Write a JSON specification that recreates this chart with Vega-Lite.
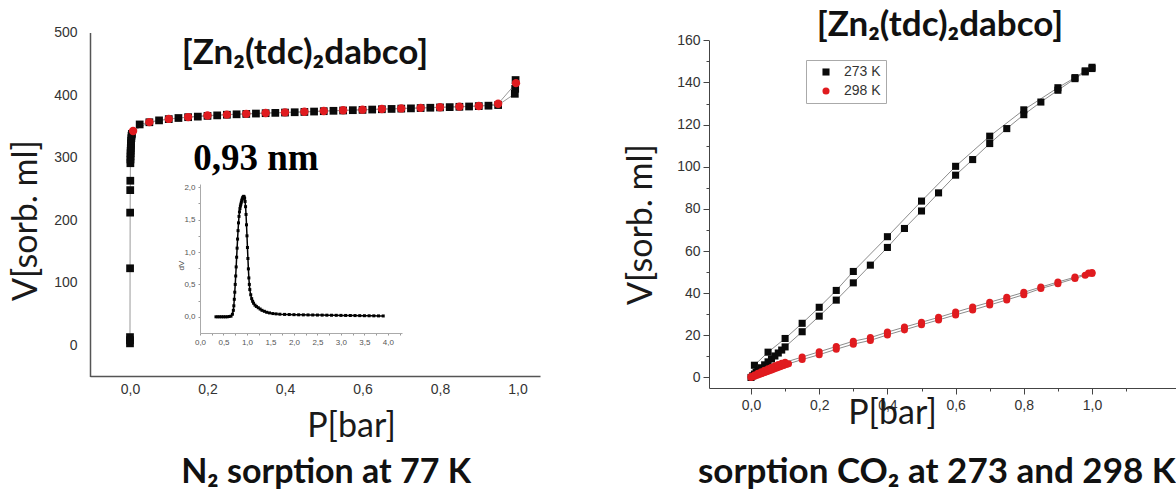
{
  "$schema": "https://vega.github.io/schema/vega-lite/v6.json",
  "width": 1176,
  "height": 490,
  "padding": 0,
  "autosize": {"type": "none"},
  "background": "white",
  "config": {
    "view": {"stroke": null},
    "font": "Liberation Sans",
    "axis": {"grid": false, "labelFont": "Liberation Sans", "labelColor": "#333", "domainColor": "#555", "tickColor": "#555", "labelOverlap": false, "labelFlush": false, "titleFont": "Lato", "titleFontWeight": "normal", "titleColor": "#1a1a1a"}
  },
  "datasets": {
    "n2": [
      {"s": "a", "P": 0.0, "V": 3}, {"s": "a", "P": 0.0, "V": 8}, {"s": "a", "P": 0.0, "V": 13},
      {"s": "a", "P": 0.0002, "V": 123}, {"s": "a", "P": 0.0004, "V": 212}, {"s": "a", "P": 0.0006, "V": 248},
      {"s": "a", "P": 0.0008, "V": 263}, {"s": "a", "P": 0.001, "V": 291}, {"s": "a", "P": 0.0012, "V": 297},
      {"s": "a", "P": 0.0014, "V": 302}, {"s": "a", "P": 0.0016, "V": 307}, {"s": "a", "P": 0.0018, "V": 311},
      {"s": "a", "P": 0.002, "V": 315}, {"s": "a", "P": 0.0023, "V": 319}, {"s": "a", "P": 0.0026, "V": 323},
      {"s": "a", "P": 0.003, "V": 327}, {"s": "a", "P": 0.0035, "V": 331}, {"s": "a", "P": 0.004, "V": 335},
      {"s": "a", "P": 0.005, "V": 338}, {"s": "a", "P": 0.025, "V": 353}, {"s": "a", "P": 0.05, "V": 356.5},
      {"s": "a", "P": 0.075, "V": 359.5}, {"s": "a", "P": 0.1, "V": 361.5}, {"s": "a", "P": 0.125, "V": 363.3},
      {"s": "a", "P": 0.15, "V": 364.6}, {"s": "a", "P": 0.175, "V": 365.5}, {"s": "a", "P": 0.2, "V": 366.7},
      {"s": "a", "P": 0.225, "V": 367.5}, {"s": "a", "P": 0.25, "V": 368.5}, {"s": "a", "P": 0.275, "V": 369.2},
      {"s": "a", "P": 0.3, "V": 369.8}, {"s": "a", "P": 0.325, "V": 370.4}, {"s": "a", "P": 0.35, "V": 371},
      {"s": "a", "P": 0.375, "V": 371.5}, {"s": "a", "P": 0.4, "V": 372}, {"s": "a", "P": 0.425, "V": 372.5},
      {"s": "a", "P": 0.45, "V": 373}, {"s": "a", "P": 0.475, "V": 373.6}, {"s": "a", "P": 0.5, "V": 374.2},
      {"s": "a", "P": 0.525, "V": 374.8}, {"s": "a", "P": 0.55, "V": 375.3}, {"s": "a", "P": 0.575, "V": 375.8},
      {"s": "a", "P": 0.6, "V": 376.3}, {"s": "a", "P": 0.625, "V": 376.8}, {"s": "a", "P": 0.65, "V": 377.3},
      {"s": "a", "P": 0.675, "V": 377.8}, {"s": "a", "P": 0.7, "V": 378.3}, {"s": "a", "P": 0.725, "V": 378.7},
      {"s": "a", "P": 0.75, "V": 379.2}, {"s": "a", "P": 0.775, "V": 379.7}, {"s": "a", "P": 0.8, "V": 380.2},
      {"s": "a", "P": 0.825, "V": 380.7}, {"s": "a", "P": 0.85, "V": 381.2}, {"s": "a", "P": 0.875, "V": 381.7},
      {"s": "a", "P": 0.9, "V": 382.3}, {"s": "a", "P": 0.925, "V": 383}, {"s": "a", "P": 0.95, "V": 384},
      {"s": "a", "P": 0.993, "V": 402}, {"s": "a", "P": 0.994, "V": 410}, {"s": "a", "P": 0.995, "V": 424},
      {"s": "d", "P": 0.008, "V": 342.5}, {"s": "d", "P": 0.05, "V": 356.7}, {"s": "d", "P": 0.1, "V": 361.8},
      {"s": "d", "P": 0.15, "V": 364.8}, {"s": "d", "P": 0.2, "V": 367.3}, {"s": "d", "P": 0.25, "V": 368.7},
      {"s": "d", "P": 0.3, "V": 370}, {"s": "d", "P": 0.35, "V": 371.3}, {"s": "d", "P": 0.4, "V": 372.3},
      {"s": "d", "P": 0.45, "V": 373.3}, {"s": "d", "P": 0.5, "V": 374.5}, {"s": "d", "P": 0.55, "V": 375.6},
      {"s": "d", "P": 0.6, "V": 376.6}, {"s": "d", "P": 0.65, "V": 377.6}, {"s": "d", "P": 0.7, "V": 378.6},
      {"s": "d", "P": 0.75, "V": 379.5}, {"s": "d", "P": 0.8, "V": 380.5}, {"s": "d", "P": 0.85, "V": 381.5},
      {"s": "d", "P": 0.9, "V": 382.5}, {"s": "d", "P": 0.95, "V": 386}, {"s": "d", "P": 0.996, "V": 419}
    ],
    "psd": [
      {"d": 0.34, "dV": 0.0}, {"d": 0.38, "dV": 0.0}, {"d": 0.42, "dV": 0.0}, {"d": 0.46, "dV": 0.0},
      {"d": 0.5, "dV": 0.0}, {"d": 0.54, "dV": 0.0}, {"d": 0.58, "dV": 0.0}, {"d": 0.62, "dV": 0.005},
      {"d": 0.66, "dV": 0.01}, {"d": 0.69, "dV": 0.04}, {"d": 0.71, "dV": 0.1}, {"d": 0.72, "dV": 0.17},
      {"d": 0.73, "dV": 0.27}, {"d": 0.74, "dV": 0.38}, {"d": 0.75, "dV": 0.5}, {"d": 0.76, "dV": 0.63},
      {"d": 0.77, "dV": 0.77}, {"d": 0.78, "dV": 0.92}, {"d": 0.79, "dV": 1.06}, {"d": 0.8, "dV": 1.2},
      {"d": 0.81, "dV": 1.33}, {"d": 0.82, "dV": 1.45}, {"d": 0.83, "dV": 1.55}, {"d": 0.84, "dV": 1.62},
      {"d": 0.85, "dV": 1.67}, {"d": 0.86, "dV": 1.71}, {"d": 0.87, "dV": 1.74}, {"d": 0.88, "dV": 1.77},
      {"d": 0.89, "dV": 1.8}, {"d": 0.9, "dV": 1.82}, {"d": 0.91, "dV": 1.84}, {"d": 0.92, "dV": 1.85},
      {"d": 0.93, "dV": 1.86}, {"d": 0.94, "dV": 1.85}, {"d": 0.95, "dV": 1.83}, {"d": 0.96, "dV": 1.78},
      {"d": 0.97, "dV": 1.7}, {"d": 0.98, "dV": 1.58}, {"d": 0.99, "dV": 1.42}, {"d": 1.0, "dV": 1.25},
      {"d": 1.01, "dV": 1.07}, {"d": 1.02, "dV": 0.9}, {"d": 1.03, "dV": 0.74}, {"d": 1.04, "dV": 0.6},
      {"d": 1.05, "dV": 0.5}, {"d": 1.06, "dV": 0.42}, {"d": 1.08, "dV": 0.34}, {"d": 1.1, "dV": 0.28},
      {"d": 1.12, "dV": 0.24}, {"d": 1.14, "dV": 0.21}, {"d": 1.17, "dV": 0.18}, {"d": 1.2, "dV": 0.16},
      {"d": 1.24, "dV": 0.14}, {"d": 1.28, "dV": 0.12}, {"d": 1.32, "dV": 0.1}, {"d": 1.37, "dV": 0.085},
      {"d": 1.42, "dV": 0.07}, {"d": 1.48, "dV": 0.06}, {"d": 1.55, "dV": 0.05}, {"d": 1.62, "dV": 0.045},
      {"d": 1.7, "dV": 0.04}, {"d": 1.8, "dV": 0.037}, {"d": 1.9, "dV": 0.035}, {"d": 2.0, "dV": 0.033},
      {"d": 2.1, "dV": 0.031}, {"d": 2.2, "dV": 0.03}, {"d": 2.3, "dV": 0.029}, {"d": 2.4, "dV": 0.028},
      {"d": 2.5, "dV": 0.027}, {"d": 2.6, "dV": 0.026}, {"d": 2.7, "dV": 0.025}, {"d": 2.8, "dV": 0.024},
      {"d": 2.9, "dV": 0.023}, {"d": 3.0, "dV": 0.022}, {"d": 3.1, "dV": 0.021}, {"d": 3.2, "dV": 0.02},
      {"d": 3.3, "dV": 0.019}, {"d": 3.4, "dV": 0.018}, {"d": 3.5, "dV": 0.017}, {"d": 3.6, "dV": 0.016},
      {"d": 3.7, "dV": 0.015}, {"d": 3.8, "dV": 0.014}, {"d": 3.9, "dV": 0.013}
    ],
    "co2": [
      {"T": "273 K", "b": "a", "P": 0.0, "V": 0}, {"T": "273 K", "b": "a", "P": 0.005, "V": 0.8},
      {"T": "273 K", "b": "a", "P": 0.01, "V": 1.6}, {"T": "273 K", "b": "a", "P": 0.015, "V": 2.4},
      {"T": "273 K", "b": "a", "P": 0.02, "V": 3.2}, {"T": "273 K", "b": "a", "P": 0.03, "V": 4.6},
      {"T": "273 K", "b": "a", "P": 0.04, "V": 6.0}, {"T": "273 K", "b": "a", "P": 0.05, "V": 7.4},
      {"T": "273 K", "b": "a", "P": 0.06, "V": 8.8}, {"T": "273 K", "b": "a", "P": 0.07, "V": 10.2},
      {"T": "273 K", "b": "a", "P": 0.08, "V": 11.6}, {"T": "273 K", "b": "a", "P": 0.09, "V": 13.0},
      {"T": "273 K", "b": "a", "P": 0.1, "V": 14.5}, {"T": "273 K", "b": "a", "P": 0.15, "V": 21.7},
      {"T": "273 K", "b": "a", "P": 0.2, "V": 29.1}, {"T": "273 K", "b": "a", "P": 0.25, "V": 36.7},
      {"T": "273 K", "b": "a", "P": 0.3, "V": 44.9}, {"T": "273 K", "b": "a", "P": 0.35, "V": 53.3},
      {"T": "273 K", "b": "a", "P": 0.4, "V": 61.7}, {"T": "273 K", "b": "a", "P": 0.45, "V": 70.7},
      {"T": "273 K", "b": "a", "P": 0.5, "V": 79}, {"T": "273 K", "b": "a", "P": 0.55, "V": 87.6},
      {"T": "273 K", "b": "a", "P": 0.6, "V": 96}, {"T": "273 K", "b": "a", "P": 0.65, "V": 103.4},
      {"T": "273 K", "b": "a", "P": 0.7, "V": 111}, {"T": "273 K", "b": "a", "P": 0.75, "V": 118.1},
      {"T": "273 K", "b": "a", "P": 0.8, "V": 124.7}, {"T": "273 K", "b": "a", "P": 0.85, "V": 130.7},
      {"T": "273 K", "b": "a", "P": 0.9, "V": 136.3}, {"T": "273 K", "b": "a", "P": 0.95, "V": 141.8},
      {"T": "273 K", "b": "a", "P": 0.98, "V": 145}, {"T": "273 K", "b": "a", "P": 1.0, "V": 146.6},
      {"T": "273 K", "b": "d", "P": 1.0, "V": 147.2}, {"T": "273 K", "b": "d", "P": 0.98, "V": 145.5},
      {"T": "273 K", "b": "d", "P": 0.95, "V": 142.3}, {"T": "273 K", "b": "d", "P": 0.9, "V": 137.5},
      {"T": "273 K", "b": "d", "P": 0.8, "V": 127}, {"T": "273 K", "b": "d", "P": 0.7, "V": 114.5},
      {"T": "273 K", "b": "d", "P": 0.6, "V": 100.2}, {"T": "273 K", "b": "d", "P": 0.5, "V": 83.7},
      {"T": "273 K", "b": "d", "P": 0.4, "V": 66.8}, {"T": "273 K", "b": "d", "P": 0.3, "V": 50.3},
      {"T": "273 K", "b": "d", "P": 0.25, "V": 41.3}, {"T": "273 K", "b": "d", "P": 0.2, "V": 33.3},
      {"T": "273 K", "b": "d", "P": 0.15, "V": 25.7}, {"T": "273 K", "b": "d", "P": 0.1, "V": 18.5},
      {"T": "273 K", "b": "d", "P": 0.05, "V": 12.0}, {"T": "273 K", "b": "d", "P": 0.01, "V": 5.8},
      {"T": "298 K", "b": "a", "P": 0.0, "V": 0}, {"T": "298 K", "b": "a", "P": 0.005, "V": 0.3},
      {"T": "298 K", "b": "a", "P": 0.01, "V": 0.6}, {"T": "298 K", "b": "a", "P": 0.015, "V": 0.9},
      {"T": "298 K", "b": "a", "P": 0.02, "V": 1.2}, {"T": "298 K", "b": "a", "P": 0.025, "V": 1.5},
      {"T": "298 K", "b": "a", "P": 0.03, "V": 1.8}, {"T": "298 K", "b": "a", "P": 0.035, "V": 2.1},
      {"T": "298 K", "b": "a", "P": 0.04, "V": 2.4}, {"T": "298 K", "b": "a", "P": 0.045, "V": 2.7},
      {"T": "298 K", "b": "a", "P": 0.05, "V": 3.0}, {"T": "298 K", "b": "a", "P": 0.055, "V": 3.3},
      {"T": "298 K", "b": "a", "P": 0.06, "V": 3.6}, {"T": "298 K", "b": "a", "P": 0.065, "V": 3.9},
      {"T": "298 K", "b": "a", "P": 0.07, "V": 4.2}, {"T": "298 K", "b": "a", "P": 0.075, "V": 4.5},
      {"T": "298 K", "b": "a", "P": 0.08, "V": 4.8}, {"T": "298 K", "b": "a", "P": 0.085, "V": 5.1},
      {"T": "298 K", "b": "a", "P": 0.09, "V": 5.4}, {"T": "298 K", "b": "a", "P": 0.095, "V": 5.7},
      {"T": "298 K", "b": "a", "P": 0.1, "V": 6.0}, {"T": "298 K", "b": "a", "P": 0.105, "V": 6.3},
      {"T": "298 K", "b": "a", "P": 0.11, "V": 6.5}, {"T": "298 K", "b": "a", "P": 0.15, "V": 8.5},
      {"T": "298 K", "b": "a", "P": 0.2, "V": 10.8}, {"T": "298 K", "b": "a", "P": 0.25, "V": 13.4},
      {"T": "298 K", "b": "a", "P": 0.3, "V": 15.8}, {"T": "298 K", "b": "a", "P": 0.35, "V": 17.6},
      {"T": "298 K", "b": "a", "P": 0.4, "V": 20.2}, {"T": "298 K", "b": "a", "P": 0.45, "V": 22.6},
      {"T": "298 K", "b": "a", "P": 0.5, "V": 25}, {"T": "298 K", "b": "a", "P": 0.55, "V": 27.3},
      {"T": "298 K", "b": "a", "P": 0.6, "V": 29.7}, {"T": "298 K", "b": "a", "P": 0.65, "V": 32},
      {"T": "298 K", "b": "a", "P": 0.7, "V": 34.4}, {"T": "298 K", "b": "a", "P": 0.75, "V": 36.8},
      {"T": "298 K", "b": "a", "P": 0.8, "V": 39.3}, {"T": "298 K", "b": "a", "P": 0.85, "V": 42.2},
      {"T": "298 K", "b": "a", "P": 0.9, "V": 44.5}, {"T": "298 K", "b": "a", "P": 0.95, "V": 47},
      {"T": "298 K", "b": "a", "P": 0.98, "V": 48.5}, {"T": "298 K", "b": "a", "P": 1.0, "V": 49.3},
      {"T": "298 K", "b": "d", "P": 1.0, "V": 49.8}, {"T": "298 K", "b": "d", "P": 0.99, "V": 49.5},
      {"T": "298 K", "b": "d", "P": 0.95, "V": 47.6}, {"T": "298 K", "b": "d", "P": 0.9, "V": 45.3},
      {"T": "298 K", "b": "d", "P": 0.85, "V": 42.9}, {"T": "298 K", "b": "d", "P": 0.8, "V": 40.4},
      {"T": "298 K", "b": "d", "P": 0.75, "V": 38}, {"T": "298 K", "b": "d", "P": 0.7, "V": 35.7},
      {"T": "298 K", "b": "d", "P": 0.65, "V": 33.4}, {"T": "298 K", "b": "d", "P": 0.6, "V": 31},
      {"T": "298 K", "b": "d", "P": 0.55, "V": 28.5}, {"T": "298 K", "b": "d", "P": 0.5, "V": 26.2},
      {"T": "298 K", "b": "d", "P": 0.45, "V": 23.9}, {"T": "298 K", "b": "d", "P": 0.4, "V": 21.5},
      {"T": "298 K", "b": "d", "P": 0.35, "V": 18.9}, {"T": "298 K", "b": "d", "P": 0.3, "V": 17.2},
      {"T": "298 K", "b": "d", "P": 0.25, "V": 14.7}, {"T": "298 K", "b": "d", "P": 0.2, "V": 12.2},
      {"T": "298 K", "b": "d", "P": 0.15, "V": 9.7}, {"T": "298 K", "b": "d", "P": 0.1, "V": 7.2},
      {"T": "298 K", "b": "d", "P": 0.09, "V": 6.7}, {"T": "298 K", "b": "d", "P": 0.08, "V": 6.1},
      {"T": "298 K", "b": "d", "P": 0.07, "V": 5.5}, {"T": "298 K", "b": "d", "P": 0.06, "V": 4.8},
      {"T": "298 K", "b": "d", "P": 0.05, "V": 4.1}, {"T": "298 K", "b": "d", "P": 0.04, "V": 3.4},
      {"T": "298 K", "b": "d", "P": 0.03, "V": 2.7}, {"T": "298 K", "b": "d", "P": 0.02, "V": 2.0},
      {"T": "298 K", "b": "d", "P": 0.01, "V": 1.2}, {"T": "298 K", "b": "d", "P": 0.0, "V": 0.4}
    ]
  },
  "layer": [
    {
      "data": {"name": "n2"},
      "mark": {"type": "line", "color": "#9a9a9a", "strokeWidth": 1},
      "encoding": {
        "x": {"field": "P", "type": "quantitative", "scale": {"domain": [-0.1032, 1.058], "range": [90, 540], "nice": false, "zero": false},
          "axis": {"orient": "bottom", "offset": -114, "values": [0, 0.2, 0.4, 0.6, 0.8, 1.0], "ticks": false, "labelExpr": "replace(format(datum.value, '.1f'), '.', ',')", "labelFontSize": 14, "labelPadding": 6, "domainWidth": 1.5, "title": "P[bar]", "titleFontSize": 34, "titleX": 351, "titleY": 60, "titleBaseline": "alphabetic", "titleAlign": "center"}},
        "y": {"field": "V", "type": "quantitative", "scale": {"domain": [-50, 500], "range": [376.5, 32.5], "nice": false, "zero": false},
          "axis": {"orient": "left", "offset": -90, "values": [0, 100, 200, 300, 400, 500], "ticks": false, "labelFontSize": 14, "labelPadding": 13, "domainWidth": 1.5, "title": "V[sorb. ml]", "titleFontSize": 34, "titleX": -54, "titleY": 220, "titleBaseline": "alphabetic", "titleAlign": "center", "titleAngle": -90}},
        "detail": {"field": "s"}
      }
    },
    {
      "data": {"name": "n2"},
      "transform": [{"filter": "datum.s === 'a'"}],
      "mark": {"type": "point", "shape": "square", "filled": true, "color": "#0a0a0a", "size": 60, "opacity": 1},
      "encoding": {
        "x": {"field": "P", "type": "quantitative", "scale": {"domain": [-0.1032, 1.058], "range": [90, 540], "nice": false, "zero": false}, "axis": null},
        "y": {"field": "V", "type": "quantitative", "scale": {"domain": [-50, 500], "range": [376.5, 32.5], "nice": false, "zero": false}, "axis": null}
      }
    },
    {
      "data": {"name": "n2"},
      "transform": [{"filter": "datum.s === 'd'"}],
      "mark": {"type": "point", "shape": "circle", "filled": true, "color": "#e01b1f", "size": 70, "opacity": 1},
      "encoding": {
        "x": {"field": "P", "type": "quantitative", "scale": {"domain": [-0.1032, 1.058], "range": [90, 540], "nice": false, "zero": false}, "axis": null},
        "y": {"field": "V", "type": "quantitative", "scale": {"domain": [-50, 500], "range": [376.5, 32.5], "nice": false, "zero": false}, "axis": null}
      }
    },
    {
      "data": {"values": [{"t": "[Zn₂(tdc)₂dabco]"}]},
      "mark": {"type": "text", "font": "Lato", "fontWeight": "bold", "fontSize": 35, "align": "center", "baseline": "alphabetic", "color": "#111"},
      "encoding": {
        "text": {"field": "t"},
        "x": {"datum": 0.4516, "type": "quantitative", "scale": {"domain": [-0.1032, 1.058], "range": [90, 540], "nice": false, "zero": false}, "axis": null},
        "y": {"datum": 449.6, "type": "quantitative", "scale": {"domain": [-50, 500], "range": [376.5, 32.5], "nice": false, "zero": false}, "axis": null}
      }
    },
    {
      "data": {"values": [{"t": "0,93 nm"}]},
      "mark": {"type": "text", "font": "Liberation Serif", "fontWeight": "bold", "fontSize": 37, "align": "center", "baseline": "alphabetic", "color": "#000"},
      "encoding": {
        "text": {"field": "t"},
        "x": {"datum": 0.325, "type": "quantitative", "scale": {"domain": [-0.1032, 1.058], "range": [90, 540], "nice": false, "zero": false}, "axis": null},
        "y": {"datum": 280, "type": "quantitative", "scale": {"domain": [-50, 500], "range": [376.5, 32.5], "nice": false, "zero": false}, "axis": null}
      }
    },
    {
      "data": {"values": [{"t": "N₂ sorption at 77 K"}]},
      "mark": {"type": "text", "font": "Lato", "fontWeight": "bold", "fontSize": 34, "align": "center", "baseline": "alphabetic", "color": "#111"},
      "encoding": {
        "text": {"field": "t"},
        "x": {"datum": 0.506, "type": "quantitative", "scale": {"domain": [-0.1032, 1.058], "range": [90, 540], "nice": false, "zero": false}, "axis": null},
        "y": {"datum": -220.3, "type": "quantitative", "scale": {"domain": [-50, 500], "range": [376.5, 32.5], "nice": false, "zero": false}, "axis": null}
      }
    },
    {
      "data": {"name": "psd"},
      "mark": {"type": "line", "color": "#000", "strokeWidth": 1.5},
      "encoding": {
        "x": {"field": "d", "type": "quantitative", "scale": {"domain": [0, 4.3], "range": [200, 402], "nice": false, "zero": false},
          "axis": {"orient": "bottom", "offset": -157, "values": [0, 0.25, 0.5, 0.75, 1, 1.25, 1.5, 1.75, 2, 2.25, 2.5, 2.75, 3, 3.25, 3.5, 3.75, 4, 4.25], "labelExpr": "round(datum.value * 4) % 2 == 0 && datum.value <= 4 ? replace(format(datum.value, '.1f'), '.', ',') : ''", "tickSize": 2, "tickColor": "#999", "domainColor": "#aaa", "labelFontSize": 8, "labelColor": "#555", "labelPadding": 3, "title": null}},
        "y": {"field": "dV", "type": "quantitative", "scale": {"domain": [-0.25, 2.05], "range": [333, 184], "nice": false, "zero": false},
          "axis": {"orient": "left", "offset": -200, "values": [0, 0.25, 0.5, 0.75, 1, 1.25, 1.5, 1.75, 2], "labelExpr": "round(datum.value * 4) % 2 == 0 ? replace(format(datum.value, '.1f'), '.', ',') : ''", "tickSize": 2, "tickColor": "#999", "domainColor": "#aaa", "labelFontSize": 8, "labelColor": "#555", "labelPadding": 3, "title": "dV", "titleFont": "Liberation Sans", "titleFontSize": 8, "titleColor": "#444", "titleX": -19, "titleY": 265, "titleAngle": -90, "titleAlign": "center", "titleBaseline": "middle"}}
      }
    },
    {
      "data": {"name": "psd"},
      "mark": {"type": "point", "shape": "square", "filled": true, "color": "#000", "size": 9, "opacity": 1},
      "encoding": {
        "x": {"field": "d", "type": "quantitative", "scale": {"domain": [0, 4.3], "range": [200, 402], "nice": false, "zero": false}, "axis": null},
        "y": {"field": "dV", "type": "quantitative", "scale": {"domain": [-0.25, 2.05], "range": [333, 184], "nice": false, "zero": false}, "axis": null}
      }
    },
    {
      "data": {"name": "co2"},
      "mark": {"type": "line", "color": "#8c8c8c", "strokeWidth": 1},
      "encoding": {
        "x": {"field": "P", "type": "quantitative", "scale": {"domain": [-0.1232, 1.2463], "range": [709, 1176], "nice": false, "zero": false},
          "axis": {"orient": "bottom", "offset": -102, "values": [0, 0.1, 0.2, 0.3, 0.4, 0.5, 0.6, 0.7, 0.8, 0.9, 1.0, 1.1], "labelExpr": "round(datum.value * 10) % 2 == 0 && datum.value <= 1 ? replace(format(datum.value, '.1f'), '.', ',') : ''", "tickSize": {"condition": {"test": "round(datum.value * 10) % 2 == 0", "value": 6}, "value": 3}, "domainColor": "#444", "tickColor": "#444", "labelFontSize": 14, "labelPadding": 4, "title": "P[bar]", "titleFontSize": 34, "titleX": 892, "titleY": 35, "titleBaseline": "alphabetic", "titleAlign": "center"}},
        "y": {"field": "V", "type": "quantitative", "scale": {"domain": [-5, 160], "range": [388, 40.3], "nice": false, "zero": false},
          "axis": {"orient": "left", "offset": -709, "values": [0, 10, 20, 30, 40, 50, 60, 70, 80, 90, 100, 110, 120, 130, 140, 150, 160], "labelExpr": "datum.value % 20 == 0 ? format(datum.value, 'd') : ''", "tickSize": {"condition": {"test": "datum.value % 20 == 0", "value": 6}, "value": 3}, "domainColor": "#444", "tickColor": "#444", "labelFontSize": 14, "labelPadding": 3, "title": "V[sorb. ml]", "titleFontSize": 34, "titleX": -58, "titleY": 224, "titleBaseline": "alphabetic", "titleAlign": "center", "titleAngle": -90}},
        "detail": [{"field": "T"}, {"field": "b"}]
      }
    },
    {
      "data": {"name": "co2"},
      "mark": {"type": "point", "filled": true, "opacity": 1},
      "encoding": {
        "x": {"field": "P", "type": "quantitative", "scale": {"domain": [-0.1232, 1.2463], "range": [709, 1176], "nice": false, "zero": false}, "axis": null},
        "y": {"field": "V", "type": "quantitative", "scale": {"domain": [-5, 160], "range": [388, 40.3], "nice": false, "zero": false}, "axis": null},
        "color": {"field": "T", "type": "nominal", "scale": {"domain": ["273 K", "298 K"], "range": ["#0a0a0a", "#e01b1f"]},
          "legend": {"orient": "none", "legendX": 806, "legendY": 60, "title": null, "strokeColor": "#aaa", "fillColor": "white", "padding": 5, "symbolSize": 50, "symbolOffset": 8, "labelOffset": 11, "labelFontSize": 14, "labelColor": "#333", "labelFont": "Liberation Sans", "rowPadding": 5}},
        "shape": {"field": "T", "type": "nominal", "scale": {"domain": ["273 K", "298 K"], "range": ["square", "circle"]}},
        "size": {"value": 50}
      }
    },
    {
      "data": {"values": [{"t": "[Zn₂(tdc)₂dabco]"}]},
      "mark": {"type": "text", "font": "Lato", "fontWeight": "bold", "fontSize": 35, "align": "center", "baseline": "alphabetic", "color": "#111"},
      "encoding": {
        "text": {"field": "t"},
        "x": {"datum": 0.554, "type": "quantitative", "scale": {"domain": [-0.1232, 1.2463], "range": [709, 1176], "nice": false, "zero": false}, "axis": null},
        "y": {"datum": 162, "type": "quantitative", "scale": {"domain": [-5, 160], "range": [388, 40.3], "nice": false, "zero": false}, "axis": null}
      }
    },
    {
      "data": {"values": [{"t": "sorption CO₂ at 273 and 298 K"}]},
      "mark": {"type": "text", "font": "Lato", "fontWeight": "bold", "fontSize": 35, "align": "left", "baseline": "alphabetic", "color": "#111"},
      "encoding": {
        "text": {"field": "t"},
        "x": {"datum": -0.1557, "type": "quantitative", "scale": {"domain": [-0.1232, 1.2463], "range": [709, 1176], "nice": false, "zero": false}, "axis": null},
        "y": {"datum": -50.1, "type": "quantitative", "scale": {"domain": [-5, 160], "range": [388, 40.3], "nice": false, "zero": false}, "axis": null}
      }
    }
  ],
  "resolve": {"scale": {"x": "independent", "y": "independent"}}
}
